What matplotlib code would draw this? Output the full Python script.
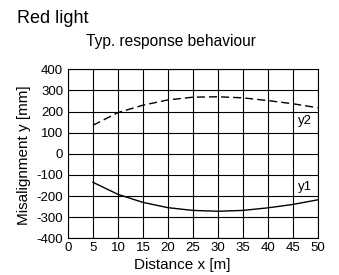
import numpy as np
import matplotlib
matplotlib.use("Agg")
import matplotlib.pyplot as plt

plt.rcParams['font.family'] = ['Liberation Sans', 'DejaVu Sans']
plt.rcParams['axes.unicode_minus'] = False

# distance x [m]
distance = [5, 10, 15, 20, 25, 30, 35, 40, 45, 50]
# misalignment y [mm]
y2 = [135, 195, 230, 255, 268, 270, 265, 252, 237, 218]
y1 = [-135, -192, -230, -255, -268, -272, -268, -256, -240, -218]

fig = plt.figure(figsize=(3.39, 2.75), dpi=100)
ax = fig.add_axes([0.2006, 0.1335, 0.7364, 0.6145])

ax.plot(distance, y2, color='black', linestyle=(0, (5.8, 2.9)), linewidth=1.0)
ax.plot(distance, y1, color='black', linestyle='-', linewidth=1.0)

ax.set_xlim(0, 50)
ax.set_ylim(-400, 400)
ax.set_xticks(np.arange(0, 51, 5))
ax.set_yticks(np.arange(-400, 401, 100))
ax.grid(True, color='black', linewidth=0.8)
ax.tick_params(length=0, labelsize=9.5)
ax.tick_params(axis='y', pad=3.5)
ax.tick_params(axis='x', pad=2.5)
for s in ax.spines.values():
    s.set_linewidth(0.8)

ax.text(47.5, 155, 'y2', fontsize=9.5, ha='center', va='center')
ax.text(47.5, -157, 'y1', fontsize=9.5, ha='center', va='center')

fig.text(0.537, 0.022, 'Distance x [m]', fontsize=11, ha='center', va='baseline')
fig.text(0.0705, 0.435, 'Misalignment y [mm]', fontsize=11, ha='center',
         va='center', rotation=90)

fig.text(0.05, 0.916, 'Red light', fontsize=13, ha='left', va='baseline')
fig.text(0.503, 0.833, 'Typ. response behaviour', fontsize=11.2, ha='center',
         va='baseline')

fig.savefig('out.png', dpi=100)
